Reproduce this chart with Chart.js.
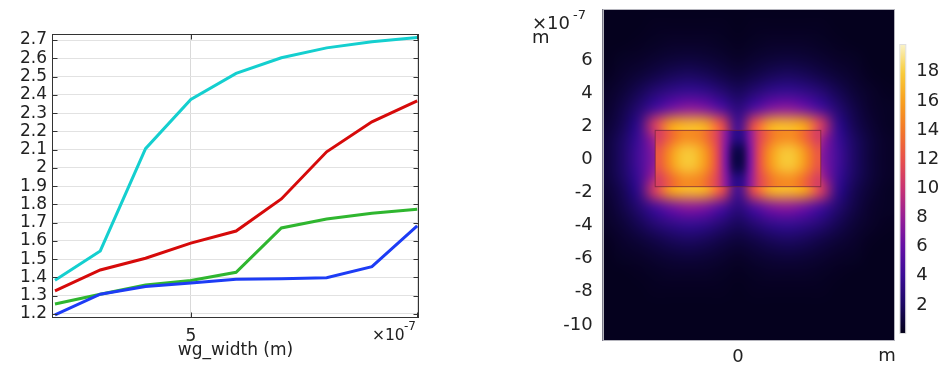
<!DOCTYPE html>
<html>
<head>
<meta charset="utf-8">
<script src="https://cdn.jsdelivr.net/npm/chart.js@4.4.0/dist/chart.umd.min.js"></script>
<style>
  body { margin: 0; background: #fff; }
  #wrap { position: relative; width: 941px; height: 366px; }
  canvas { position: absolute; top: 0; }
  #lineChart { left: 0; }
  #fieldChart { left: 470px; }
</style>
</head>
<body>
<div id="wrap">
  <canvas id="lineChart" width="470" height="366"></canvas>
  <canvas id="fieldChart" width="471" height="366"></canvas>
</div>
<script>
// sweep of wg_width, x in units of 1e-7 m
const widths = [2, 3, 4, 5, 6, 7, 8, 9, 10];
const cyanSeries = [1.385, 1.545, 2.105, 2.375, 2.517, 2.603, 2.657, 2.69, 2.714];
const redSeries = [1.326, 1.441, 1.505, 1.588, 1.654, 1.83, 2.088, 2.252, 2.367];
const greenSeries = [1.255, 1.308, 1.359, 1.383, 1.428, 1.671, 1.72, 1.751, 1.773];
const blueSeries = [1.195, 1.308, 1.35, 1.37, 1.39, 1.393, 1.399, 1.459, 1.682];

const yTickValues = [1.2, 1.3, 1.4, 1.5, 1.6, 1.7, 1.8, 1.9, 2, 2.1, 2.2, 2.3, 2.4, 2.5, 2.6, 2.7];
const yTickLabels = ['1.2', '1.3', '1.4', '1.5', '1.6', '1.7', '1.8', '1.9', '2', '2.1', '2.2', '2.3', '2.4', '2.5', '2.6', '2.7'];
const xTickValues = [5, 10];
const xTickLabels = ['5', ''];

// mode field (norm), positions in units of 1e-7 m
const fieldX = [-8, -7, -6, -5, -4, -3, -2, -1, 0, 1, 2, 3, 4, 5, 6, 7, 8, 9];
const fieldY = [9.1, 8.1, 7.1, 6.1, 5.1, 4.1, 3.1, 2.1, 1.1, 0.1, -0.9, -1.9, -2.9, -3.9, -4.9, -5.9, -6.9, -7.9, -8.9, -9.9, -10.9];
const fieldRows = [
  [0.2,0.2,0.2,0.2,0.2,0.2,0.2,0.2,0.2,0.2,0.2,0.2,0.2,0.2,0.2,0.2,0.2,0.2],
  [0.2,0.2,0.2,0.3,0.3,0.3,0.3,0.3,0.2,0.3,0.3,0.3,0.3,0.3,0.2,0.2,0.2,0.2],
  [0.2,0.2,0.3,0.4,0.5,0.5,0.5,0.4,0.3,0.4,0.5,0.5,0.5,0.4,0.3,0.2,0.2,0.2],
  [0.2,0.4,0.5,0.7,0.9,1.0,0.9,0.7,0.5,0.7,0.9,1.0,0.9,0.7,0.5,0.4,0.2,0.2],
  [0.3,0.6,0.9,1.3,1.7,1.9,1.7,1.3,1.0,1.3,1.7,1.9,1.7,1.3,0.9,0.6,0.3,0.2],
  [0.5,0.9,1.6,2.6,3.4,3.8,3.5,2.6,1.8,2.6,3.5,3.8,3.4,2.6,1.6,0.9,0.5,0.3],
  [0.6,1.3,2.5,4.5,6.5,7.5,7.0,5.0,3.0,5.0,7.0,7.5,6.5,4.5,2.5,1.3,0.6,0.4],
  [0.8,1.6,3.6,11,16,17,16.5,12,4,12,16.5,17,16,11,3.6,1.6,0.8,0.4],
  [1.0,2.0,4.2,8.5,16.5,17.5,17,12.5,4,12.5,17,17.5,16.5,8.5,4.2,2.0,1.0,0.5],
  [1.0,2.1,4.5,7.5,12,12,12,8,2,8,12,12,12,7.5,4.5,2.1,1.0,0.5],
  [1.0,2.0,4.2,8.5,16.5,17.5,17,12.5,4,12.5,17,17.5,16.5,8.5,4.2,2.0,1.0,0.5],
  [0.8,1.6,3.6,11,16,17,16.5,12,4,12,16.5,17,16,11,3.6,1.6,0.8,0.4],
  [0.6,1.3,2.5,4.5,6.5,7.5,7.0,5.0,3.0,5.0,7.0,7.5,6.5,4.5,2.5,1.3,0.6,0.4],
  [0.5,0.9,1.6,2.6,3.4,3.8,3.5,2.6,1.8,2.6,3.5,3.8,3.4,2.6,1.6,0.9,0.5,0.3],
  [0.3,0.6,0.9,1.3,1.7,1.9,1.7,1.3,1.0,1.3,1.7,1.9,1.7,1.3,0.9,0.6,0.3,0.2],
  [0.2,0.4,0.5,0.7,0.9,1.0,0.9,0.7,0.5,0.7,0.9,1.0,0.9,0.7,0.5,0.4,0.2,0.2],
  [0.2,0.2,0.3,0.4,0.5,0.5,0.5,0.4,0.3,0.4,0.5,0.5,0.5,0.4,0.3,0.2,0.2,0.2],
  [0.2,0.2,0.2,0.3,0.3,0.3,0.3,0.3,0.2,0.3,0.3,0.3,0.3,0.3,0.2,0.2,0.2,0.2],
  [0.2,0.2,0.2,0.2,0.2,0.2,0.2,0.2,0.2,0.2,0.2,0.2,0.2,0.2,0.2,0.2,0.2,0.2],
  [0.2,0.2,0.2,0.2,0.2,0.2,0.2,0.2,0.2,0.2,0.2,0.2,0.2,0.2,0.2,0.2,0.2,0.2],
  [0.2,0.2,0.2,0.2,0.2,0.2,0.2,0.2,0.2,0.2,0.2,0.2,0.2,0.2,0.2,0.2,0.2,0.2]
];
// inside the waveguide core
const coreX = [-4.75, -4.25, -3.75, -3.25, -2.75, -2.25, -1.75, -1.25, -0.75, -0.25, 0.25, 0.75, 1.25, 1.75, 2.25, 2.75, 3.25, 3.75, 4.25, 4.75];
const coreY = [1.325, 0.475, -0.375, -1.225];
const coreRows = [
  [11,12.5,14,15,15,14.5,13,11,7.5,3.5,3.5,7.5,11,13,14.5,15,15,14,12.5,11],
  [12.5,14.5,16.5,17.5,17.5,16.5,14.5,11.5,7,1.5,1.5,7,11.5,14.5,16.5,17.5,17.5,16.5,14.5,12.5],
  [12.5,14.5,16.5,17.5,17.5,16.5,14.5,11.5,7,1.5,1.5,7,11.5,14.5,16.5,17.5,17.5,16.5,14.5,12.5],
  [11,12.5,14,15,15,14.5,13,11,7.5,3.5,3.5,7.5,11,13,14.5,15,15,14,12.5,11]
];
const coreEdges = { left: -5, right: 5, bottom: -1.65, top: 1.75 };

const fieldTickValues = [-10, -8, -6, -4, -2, 0, 2, 4, 6];
const colorTickValues = [2, 4, 6, 8, 10, 12, 14, 16, 18];
const colorRange = [0.08, 19.83];

const font = 'DejaVu Sans';

// colour map stops (fraction of 0..20)
const stops = [
  [0, [3, 0, 22]], [0.05, [14, 4, 60]], [0.1, [28, 8, 100]], [0.2, [58, 12, 150]],
  [0.3, [100, 16, 165]], [0.4, [150, 30, 150]], [0.5, [200, 50, 115]], [0.6, [232, 80, 75]],
  [0.7, [243, 120, 40]], [0.8, [248, 160, 30]], [0.9, [248, 205, 60]], [1, [250, 245, 210]]
];
function cmap(v) {
  let t = Math.max(0, Math.min(1, v / 20));
  for (let i = 1; i < stops.length; i++) {
    if (t <= stops[i][0]) {
      const a = stops[i - 1], b = stops[i];
      const f = (t - a[0]) / (b[0] - a[0]);
      return a[1].map((c, k) => Math.round(c + (b[1][k] - c) * f));
    }
  }
  return stops[stops.length - 1][1];
}

function noPad(s) {
  s.paddingTop = 0; s.paddingBottom = 0; s.paddingLeft = 0; s.paddingRight = 0;
}

const lineFrame = {
  id: 'lineFrame',
  afterDraw(chart) {
    const { ctx, chartArea: a, scales: { x, y } } = chart;
    ctx.save();
    ctx.strokeStyle = '#333';
    ctx.lineWidth = 1;
    const l = Math.round(a.left) + 0.5, r = Math.round(a.right) - 0.5;
    const t = Math.round(a.top) + 0.5, b = Math.round(a.bottom) - 0.5;
    ctx.strokeRect(l, t, r - l, b - t);
    ctx.beginPath();
    y.ticks.forEach(tk => {
      const py = Math.round(y.getPixelForValue(tk.value)) + 0.5;
      ctx.moveTo(l, py); ctx.lineTo(l + 5, py);
      ctx.moveTo(r, py); ctx.lineTo(r - 5, py);
    });
    x.ticks.forEach(tk => {
      const px = Math.round(x.getPixelForValue(tk.value)) + 0.5;
      ctx.moveTo(px, t); ctx.lineTo(px, t + 5);
      ctx.moveTo(px, b); ctx.lineTo(px, b - 5);
    });
    ctx.stroke();
    ctx.fillStyle = '#222';
    ctx.textBaseline = 'middle';
    ctx.textAlign = 'left';
    ctx.font = '15.5px ' + font;
    ctx.fillText('×10', 372, 336);
    ctx.font = '12px ' + font;
    ctx.fillText('-7', 404, 327);
    ctx.restore();
  }
};

const lineChart = new Chart(document.getElementById('lineChart'), {
  type: 'line',
  data: {
    datasets: [
      { data: widths.map((w, i) => ({ x: w, y: blueSeries[i] })), borderColor: '#1d3cf5' },
      { data: widths.map((w, i) => ({ x: w, y: greenSeries[i] })), borderColor: '#2fb62f' },
      { data: widths.map((w, i) => ({ x: w, y: redSeries[i] })), borderColor: '#d60a0a' },
      { data: widths.map((w, i) => ({ x: w, y: cyanSeries[i] })), borderColor: '#14cfcf' }
    ]
  },
  options: {
    responsive: false,
    animation: false,
    layout: { padding: { left: 0, top: 34, right: 51, bottom: 0 } },
    elements: { line: { borderWidth: 3, tension: 0 }, point: { radius: 0 } },
    plugins: { legend: { display: false }, tooltip: { enabled: false } },
    scales: {
      x: {
        type: 'linear', min: 1.934, max: 10.04,
        afterBuildTicks: s => { s.ticks = xTickValues.map(v => ({ value: v })); },
        afterFit: s => { s.height = 48; noPad(s); },
        ticks: { callback: (v, i) => xTickLabels[i], font: { family: font, size: 17 }, color: '#222', padding: 8, maxRotation: 0 },
        grid: { color: '#d9d9d9', drawTicks: false },
        border: { display: false },
        title: { display: true, text: 'wg_width (m)', font: { family: font, size: 17 }, color: '#222', padding: { top: 0, bottom: 5 } }
      },
      y: {
        type: 'linear', min: 1.178, max: 2.733,
        afterBuildTicks: s => { s.ticks = yTickValues.map(v => ({ value: v })); },
        afterFit: s => { s.width = 52; noPad(s); },
        ticks: { callback: (v, i) => yTickLabels[i], font: { family: font, size: 17 }, color: '#222', padding: 5, autoSkip: false },
        grid: { color: '#e2e2e2', drawTicks: false },
        border: { display: false }
      }
    }
  },
  plugins: [lineFrame]
});

function gridImage(rows) {
  const h = rows.length, w = rows[0].length;
  const c = document.createElement('canvas');
  c.width = w; c.height = h;
  const g = c.getContext('2d');
  const img = g.createImageData(w, h);
  rows.forEach((row, j) => row.forEach((v, i) => {
    const col = cmap(v), k = (j * w + i) * 4;
    img.data[k] = col[0]; img.data[k + 1] = col[1]; img.data[k + 2] = col[2]; img.data[k + 3] = 255;
  }));
  g.putImageData(img, 0, 0);
  return c;
}

function drawGrid(chart, xs, ys, rows, clip) {
  const { ctx, scales: { x, y } } = chart;
  const dx = xs[1] - xs[0], dy = ys[0] - ys[1];
  const left = x.getPixelForValue(xs[0] - dx / 2);
  const right = x.getPixelForValue(xs[xs.length - 1] + dx / 2);
  const top = y.getPixelForValue(ys[0] + dy / 2);
  const bottom = y.getPixelForValue(ys[ys.length - 1] - dy / 2);
  ctx.save();
  ctx.beginPath();
  ctx.rect(clip.left, clip.top, clip.right - clip.left, clip.bottom - clip.top);
  ctx.clip();
  ctx.imageSmoothingEnabled = true;
  ctx.imageSmoothingQuality = 'high';
  ctx.drawImage(gridImage(rows), left, top, right - left, bottom - top);
  ctx.restore();
}

const fieldPlot = {
  id: 'fieldPlot',
  beforeDatasetsDraw(chart) {
    const { ctx, chartArea: a, scales: { x, y, cb } } = chart;
    ctx.save();
    ctx.fillStyle = 'rgb(' + cmap(0.2).join(',') + ')';
    ctx.fillRect(a.left, a.top, a.width, a.height);
    ctx.restore();
    drawGrid(chart, fieldX, fieldY, fieldRows, a);
    const core = {
      left: x.getPixelForValue(coreEdges.left), right: x.getPixelForValue(coreEdges.right),
      top: y.getPixelForValue(coreEdges.top), bottom: y.getPixelForValue(coreEdges.bottom)
    };
    drawGrid(chart, coreX, coreY, coreRows, core);
    ctx.save();
    ctx.strokeStyle = 'rgba(110,30,60,0.7)';
    ctx.lineWidth = 1;
    ctx.strokeRect(core.left, core.top, core.right - core.left, core.bottom - core.top);
    ctx.strokeStyle = '#b4b4bc';
    ctx.strokeRect(Math.round(a.left) + 0.5, Math.round(a.top) + 0.5, Math.round(a.width) - 1, Math.round(a.height) - 1);
    // colour bar
    const bTop = cb.getPixelForValue(colorRange[1]), bBot = cb.getPixelForValue(colorRange[0]);
    const bx = a.right + 6;
    const grad = ctx.createLinearGradient(0, bBot, 0, bTop);
    for (let i = 0; i <= 40; i++) {
      const v = colorRange[0] + (colorRange[1] - colorRange[0]) * i / 40;
      grad.addColorStop(i / 40, 'rgb(' + cmap(v).join(',') + ')');
    }
    ctx.fillStyle = grad;
    ctx.fillRect(bx, bTop, 5, bBot - bTop);
    ctx.strokeStyle = 'rgba(200,200,200,0.6)';
    ctx.strokeRect(bx - 0.5, bTop - 0.5, 6, bBot - bTop + 1);
    // unit labels
    ctx.fillStyle = '#222';
    ctx.textBaseline = 'middle';
    ctx.textAlign = 'left';
    ctx.font = '18px ' + font;
    ctx.fillText('×10', 62, 24);
    ctx.fillText('m', 62, 38);
    ctx.fillText('m', a.right - 16, 356);
    ctx.font = '13px ' + font;
    ctx.fillText('-7', 103, 16);
    ctx.restore();
  }
};

const fieldChart = new Chart(document.getElementById('fieldChart'), {
  type: 'scatter',
  data: { datasets: [{ data: [] }] },
  options: {
    responsive: false,
    animation: false,
    layout: { padding: { left: 0, top: 9, right: 0, bottom: 0 } },
    plugins: { legend: { display: false }, tooltip: { enabled: false } },
    scales: {
      x: {
        type: 'linear', min: -8.17, max: 9.44,
        afterBuildTicks: s => { s.ticks = [{ value: 0 }]; },
        afterFit: s => { s.height = 25; noPad(s); },
        ticks: { font: { family: font, size: 18 }, color: '#222', padding: -2, maxRotation: 0 },
        grid: { display: false },
        border: { display: false }
      },
      y: {
        type: 'linear', min: -10.97, max: 9.08,
        afterBuildTicks: s => { s.ticks = fieldTickValues.map(v => ({ value: v })); },
        afterFit: s => { s.width = 132.7; noPad(s); },
        ticks: { font: { family: font, size: 18 }, color: '#222', padding: 2, autoSkip: false },
        grid: { display: false },
        border: { display: false }
      },
      cb: {
        type: 'linear', position: 'right', min: -0.47, max: 22.3,
        afterBuildTicks: s => { s.ticks = colorTickValues.map(v => ({ value: v })); },
        afterFit: s => { s.width = 46.7; noPad(s); },
        ticks: { font: { family: font, size: 18 }, color: '#222', padding: 14, autoSkip: false },
        grid: { display: false },
        border: { display: false }
      }
    }
  },
  plugins: [fieldPlot]
});
</script>
</body>
</html>
